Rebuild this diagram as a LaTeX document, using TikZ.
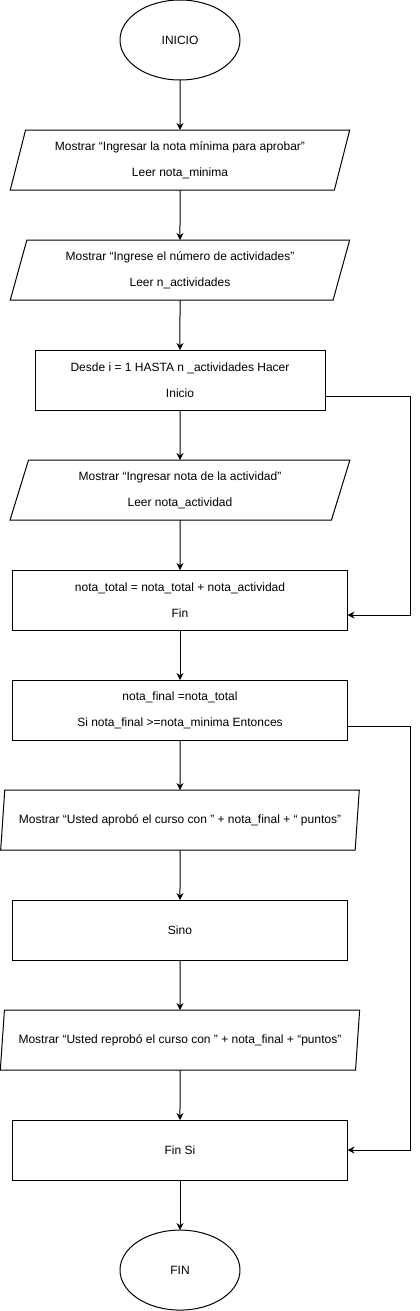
\documentclass[tikz,border=0pt]{standalone}
\usepackage{fontspec}
\setmainfont{Liberation Sans}
\usetikzlibrary{positioning,shapes.geometric,arrows.meta}

\begin{document}
\begin{tikzpicture}[x=1pt,y=1pt,line width=1pt,node distance=50pt,
	font=\fontsize{12pt}{14pt}\selectfont,
	every node/.style={outer sep=0pt},
	extremo/.style={draw,ellipse,minimum width=120pt,minimum height=80pt,inner sep=0pt},
	entrada/.style={draw,trapezium,trapezium left angle=71.57,trapezium right angle=108.43,
		trapezium stretches=true,minimum width=#1,minimum height=60pt,inner sep=0pt,align=center},
	entrada/.default=340pt,
	proceso/.style={draw,rectangle,minimum width=#1,minimum height=60pt,inner sep=0pt,align=center},
	proceso/.default=335pt,
	flecha/.style={-{Stealth[length=7pt,width=7pt]}}]
					\useasboundingbox (0,0) rectangle (420,-1311);
					%NODOS
					\node[extremo] (inicio) at (180,-40) {INICIO};
					\node[entrada,below=of inicio] (leer1) {Mostrar “Ingresar la nota mínima para aprobar”\\[12pt]Leer nota\_minima};
					\node[entrada,below=of leer1] (leer2) {Mostrar “Ingrese el número de actividades”\\[12pt]Leer n\_actividades};
					\node[proceso=290pt,below=of leer2] (desde) {Desde i = 1 HASTA n \_actividades Hacer\\[12pt]Inicio};
					\node[entrada,below=of desde] (leer3) {Mostrar “Ingresar nota de la actividad”\\[12pt]Leer nota\_actividad};
					\node[proceso,below=of leer3] (total) {nota\_total = nota\_total + nota\_actividad\\[12pt]Fin};
					\node[proceso,below=of total] (final) {nota\_final =nota\_total\\[12pt]Si nota\_final >=nota\_minima Entonces};
					\node[entrada=360pt,below=of final] (aprobo) {Mostrar “Usted aprobó el curso con ” + nota\_final + “ puntos”};
					\node[proceso,below=of aprobo] (sino) {Sino};
					\node[entrada=360pt,below=of sino] (reprobo) {Mostrar “Usted reprobó el curso con ” + nota\_final + “puntos”};
					\node[proceso,below=of reprobo] (finsi) {Fin Si};
					\node[extremo,below=of finsi] (fin) {FIN};
					%FLECHAS
					\foreach \a/\b in {inicio/leer1,leer1/leer2,leer2/desde,desde/leer3,leer3/total,total/final,final/aprobo,aprobo/sino,sino/reprobo,reprobo/finsi,finsi/fin}
						\draw[flecha] (\a) -- (\b);
					%BUCLES
					\draw[flecha] ([yshift=-16pt]desde.east) -- ++(85,0) |- ([yshift=-15pt]total.east);
					\draw[flecha] ([yshift=-16pt]final.east) -- ++(62.5,0) |- (finsi.east);
\end{tikzpicture}
\end{document}
